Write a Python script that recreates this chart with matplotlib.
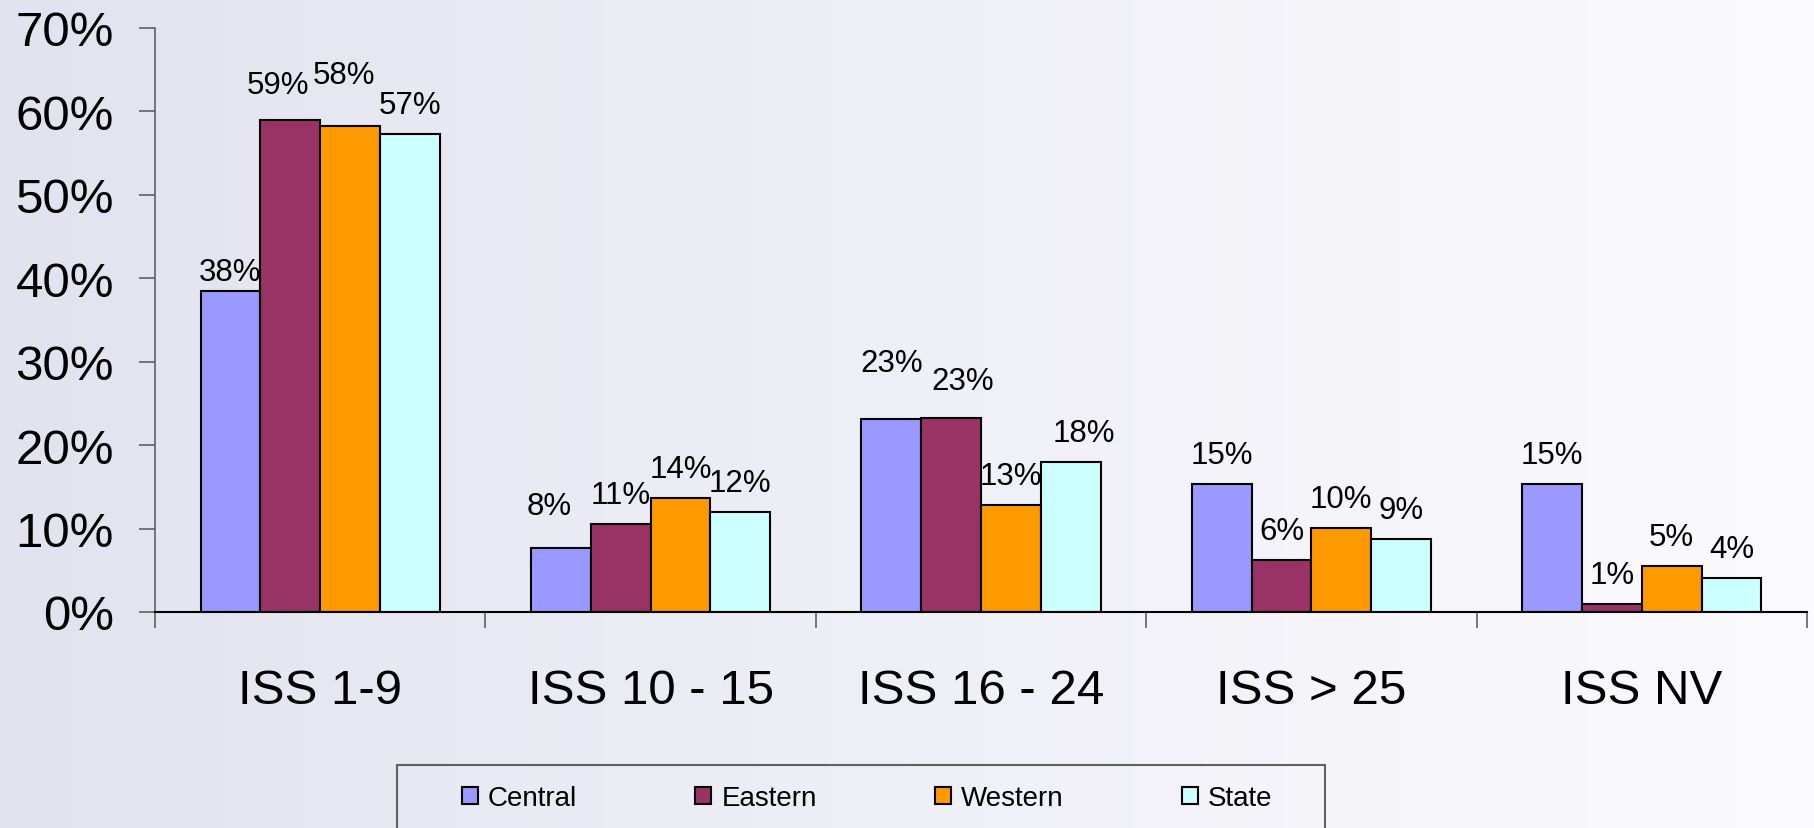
import numpy as np
import matplotlib
matplotlib.use("Agg")
import matplotlib.pyplot as plt
from matplotlib.patches import Rectangle
from matplotlib.colors import LinearSegmentedColormap

plt.rcParams['font.family'] = ['Liberation Sans', 'DejaVu Sans']

categories = ["ISS 1-9", "ISS 10 - 15", "ISS 16 - 24", "ISS > 25", "ISS NV"]
series_names = ["Central", "Eastern", "Western", "State"]
central = [38.5, 7.7, 23.1, 15.4, 15.4]
eastern = [59.0, 10.5, 23.3, 6.2, 1.0]
western = [58.3, 13.7, 12.8, 10.1, 5.5]
state = [57.3, 12.0, 18.0, 8.7, 4.1]
labels_central = ["38%", "8%", "23%", "15%", "15%"]
labels_eastern = ["59%", "11%", "23%", "6%", "1%"]
labels_western = ["58%", "14%", "13%", "10%", "5%"]
labels_state = ["57%", "12%", "18%", "9%", "4%"]
yticks = [0, 10, 20, 30, 40, 50, 60, 70]
ytick_labels = ["0%", "10%", "20%", "30%", "40%", "50%", "60%", "70%"]

colors = ["#9999FF", "#993366", "#FF9900", "#CCFFFF"]

# label placement tweaks (pixels): (category, series) -> (dx, dy)
label_tweaks = {(0, 0): (0, -10), (0, 1): (-12, 6), (0, 2): (-6, 22),
                (1, 0): (-12, 13), (2, 0): (0, 27), (2, 1): (12, 8), (2, 3): (13, 0)}

W, H, DPI = 1814, 829, 100
fig = plt.figure(figsize=(W / DPI, H / DPI), dpi=DPI)

# background gradient
bg = fig.add_axes([0, 0, 1, 1], zorder=-10)
cmap = LinearSegmentedColormap.from_list("bg", ["#E3E3F0", "#FBFBFD"])
grad = np.linspace(0, 1, 256).reshape(1, -1)
bg.imshow(grad, aspect='auto', cmap=cmap, extent=[0, 1, 0, 1])
bg.set_axis_off()

ax = fig.add_axes([155 / W, 1 - 613 / H, (1807 - 155) / W, (613 - 29) / H])
ax.patch.set_alpha(0)

values = [central, eastern, western, state]
labels = [labels_central, labels_eastern, labels_western, labels_state]
x = np.arange(len(categories))
w = 0.181
for j, (vals, labs, c, name) in enumerate(zip(values, labels, colors, series_names)):
    pos = x + (j - 1.5) * w
    ax.bar(pos, vals, width=w, color=c, edgecolor='black', linewidth=1.5,
           label=name, zorder=3)
    for i, (p, v, t) in enumerate(zip(pos, vals, labs)):
        dx, dy = label_tweaks.get((i, j), (0, 0))
        ax.annotate(t, (p, v), xytext=(dx * 0.72, (29 + dy) * 0.72),
                    textcoords='offset points', ha='center', va='center',
                    fontsize=22.5, color='black', zorder=5)

ax.set_xlim(-0.5, len(categories) - 0.5)
ax.set_ylim(0, 70)
ax.set_yticks(yticks)
ax.set_yticklabels(ytick_labels, fontsize=35.5)
ax.tick_params(axis='y', direction='out', length=11.5, width=1.2, color='#606060', pad=18)

ax.set_xticks(x)
ax.set_xticklabels(categories, fontsize=35.5)
ax.set_xticks(np.arange(-0.5, len(categories), 1.0), minor=True)
ax.tick_params(axis='x', which='major', length=0, pad=40)
ax.tick_params(axis='x', which='minor', direction='out', length=11.5, width=1.2, color='#606060')

for s in ['top', 'right']:
    ax.spines[s].set_visible(False)
ax.spines['left'].set_color('#606060')
ax.spines['left'].set_linewidth(1.2)
ax.spines['bottom'].set_color('black')
ax.spines['bottom'].set_linewidth(1.5)
ax.spines['bottom'].set_zorder(6)

# legend frame (extends past bottom edge)
fig.patches.append(Rectangle((397 / W, -0.05), (1325 - 397) / W, 0.05 + 1 - 766 / H,
                             transform=fig.transFigure, fill=False,
                             edgecolor='#606060', linewidth=1.5))
handles, hl = ax.get_legend_handles_labels()
fig.legend(handles, hl, loc='center', bbox_to_anchor=(867 / W, 1 - 799 / H), ncol=4,
           frameon=False, fontsize=20, handlelength=0.58, handleheight=0.58,
           handletextpad=0.36, columnspacing=4.25)

fig.savefig("out.png", dpi=DPI)
